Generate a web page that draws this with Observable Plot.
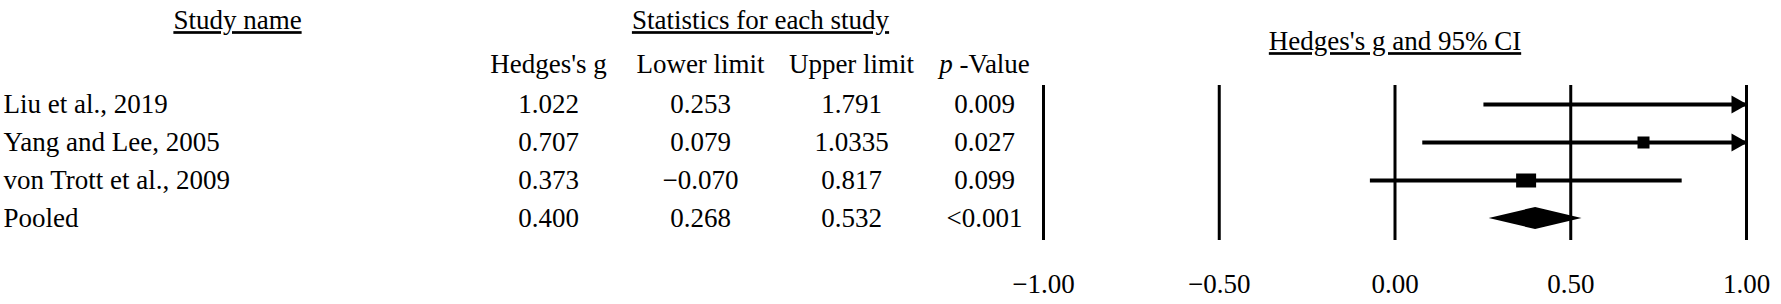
<!DOCTYPE html>
<html><head><meta charset="utf-8">
<script src="https://cdn.jsdelivr.net/npm/d3@7"></script>
<script src="https://cdn.jsdelivr.net/npm/@observablehq/plot@0.6"></script>
<style>
html,body{margin:0;padding:0;background:#fff;}
svg text.ul{text-decoration:underline;text-decoration-thickness:2px;}
</style>
</head><body><div id="chart"></div>
<script>
// ---- data ----
const studies = ["Liu et al., 2019", "Yang and Lee, 2005", "von Trott et al., 2009", "Pooled"];
const hedgesG = ["1.022", "0.707", "0.373", "0.400"];
const lowerLimit = ["0.253", "0.079", "−0.070", "0.268"];
const upperLimit = ["1.791", "1.0335", "0.817", "0.532"];
const pValue = ["0.009", "0.027", "0.099", "<0.001"];
const isPooled = [false, false, false, true];
const xTicks = [-1, -0.5, 0, 0.5, 1];
const columnHeaders = ["Hedges's g", "Lower limit", "Upper limit", "p -Value"];
const sectionTitles = ["Study name", "Statistics for each study"];
const plotTitle = "Hedges's g and 95% CI";

// ---- build ----
const num = s => +String(s).replace("−", "-");
const rows = studies.map((s, i) => ({
  i, study: s,
  g: num(hedgesG[i]), lower: num(lowerLimit[i]), upper: num(upperLimit[i]),
  gText: hedgesG[i], lowerText: lowerLimit[i], upperText: upperLimit[i], pText: pValue[i],
  pooled: isPooled[i]
}));

const W = 1781, H = 304, mL = 1043, mR = 35, mT = 85, mB = 64;
const xMin = d3.min(xTicks), xMax = d3.max(xTicks);
const colX = [548, 700, 851, 984];
const headerY = 64, sectionY = 20, titleY = 41;
const boxSize = [null, [12, 12], [20, 14], null];

const boxSym = (w, h) => ({draw(ctx) { ctx.rect(-w / 2, -h / 2, w, h); }});
const arrowSym = {draw(ctx) { ctx.moveTo(1, 0); ctx.lineTo(-15, -9); ctx.lineTo(-15, 9); ctx.closePath(); }};

const studyRows = rows.filter(d => !d.pooled);
const pooled = rows.filter(d => d.pooled);
const dh = 0.29;
const diamondPts = pooled.flatMap(d => [
  {y: d.i - dh, x1: d.g, x2: d.g},
  {y: d.i, x1: d.lower, x2: d.upper},
  {y: d.i + dh, x1: d.g, x2: d.g}
]);

const valueCols = ["gText", "lowerText", "upperText", "pText"];

const marks = [
  Plot.ruleX(xTicks, {stroke: "black", strokeWidth: 3}),
  Plot.ruleY(studyRows, {y: "i", x1: d => Math.max(d.lower, xMin), x2: d => Math.min(d.upper, xMax), stroke: "black", strokeWidth: 4}),
  Plot.dot(studyRows.filter(d => d.upper > xMax), {x: d => Math.min(d.upper, xMax), y: "i", symbol: arrowSym, fill: "black", stroke: "none"}),
  ...studyRows.filter(d => d.g <= xMax && boxSize[d.i]).map(d =>
    Plot.dot([d], {x: "g", y: "i", symbol: boxSym(...boxSize[d.i]), fill: "black", stroke: "none"})),
  Plot.areaX(diamondPts, {y: "y", x1: "x1", x2: "x2", fill: "black", curve: "linear"}),
  Plot.axisX(xTicks, {tickSize: 0, tickPadding: 33, tickFormat: d3.format(".2f"), label: null}),
  // table
  Plot.text(rows, {frameAnchor: "left", y: "i", text: "study", dx: 3 - mL, textAnchor: "start", lineAnchor: "middle"}),
  ...valueCols.map((c, k) => Plot.text(rows, {frameAnchor: "left", y: "i", text: c, dx: colX[k] - mL, textAnchor: "middle", lineAnchor: "middle"})),
  ...columnHeaders.map((h, k) => Plot.text([h], {frameAnchor: "top-left", text: d => d, dx: colX[k] - mL, dy: headerY - mT, textAnchor: "middle", lineAnchor: "middle"})),
  Plot.text([sectionTitles[0]], {frameAnchor: "top-left", text: d => d, dx: 237 - mL, dy: sectionY - mT, textAnchor: "middle", lineAnchor: "middle"}),
  Plot.text([sectionTitles[1]], {frameAnchor: "top-left", text: d => d, dx: 760 - mL, dy: sectionY - mT, textAnchor: "middle", lineAnchor: "middle"}),
  Plot.text([plotTitle], {frameAnchor: "top", text: d => d, dy: titleY - mT, textAnchor: "middle", lineAnchor: "middle"})
];

const svg = Plot.plot({
  width: W, height: H,
  marginLeft: mL, marginRight: mR, marginTop: mT, marginBottom: mB,
  x: {domain: [xMin, xMax]},
  y: {domain: [0, rows.length - 1], range: [104, 218], axis: null},
  style: {fontFamily: "'Liberation Serif', serif", fontSize: "27px", color: "black", background: "white", overflow: "visible"},
  marks
});

const underlined = [...sectionTitles, plotTitle];
d3.select(svg).selectAll("text")
  .filter(function() { return underlined.includes(this.textContent); })
  .classed("ul", true);
d3.select(svg).selectAll("text")
  .filter(function() { return this.textContent === "p -Value"; })
  .each(function() {
    const t = d3.select(this);
    t.text(null);
    t.append("tspan").attr("font-style", "italic").text("p");
    t.append("tspan").text(" -Value");
  });

document.getElementById("chart").appendChild(svg);
</script>
</body></html>
